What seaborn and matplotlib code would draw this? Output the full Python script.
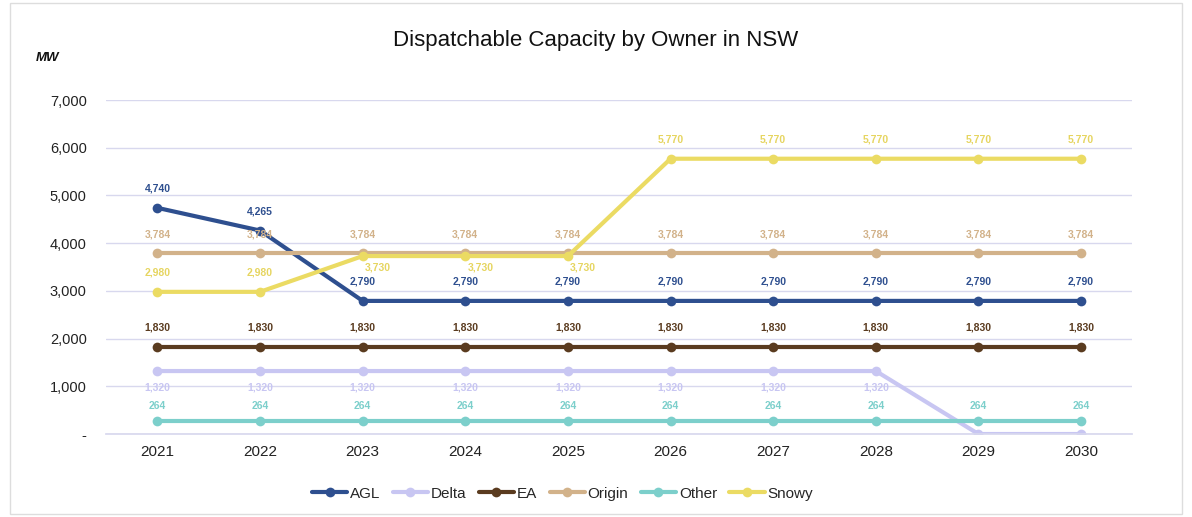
import matplotlib
matplotlib.use("Agg")
import matplotlib.pyplot as plt
import seaborn as sns
import pandas as pd
from matplotlib.ticker import FuncFormatter

years = [2021, 2022, 2023, 2024, 2025, 2026, 2027, 2028, 2029, 2030]
agl = [4740, 4265, 2790, 2790, 2790, 2790, 2790, 2790, 2790, 2790]
delta = [1320, 1320, 1320, 1320, 1320, 1320, 1320, 1320, 0, 0]
ea = [1830] * 10
origin = [3784] * 10
other = [264] * 10
snowy = [2980, 2980, 3730, 3730, 3730, 5770, 5770, 5770, 5770, 5770]

owners = ["AGL", "Delta", "EA", "Origin", "Other", "Snowy"]
series = [agl, delta, ea, origin, other, snowy]
colors = ["#2E4F8F", "#C8C6F2", "#5A3B1F", "#D2B28A", "#7CCFCB", "#EBDB63"]
label_colors = ["#2E4F8F", "#C8C6F2", "#5A3B1F", "#D2B28A", "#7CCFCB", "#E6D560"]

rows = []
for name, vals in zip(owners, series):
    for y, v in zip(years, vals):
        rows.append({"Year": y, "MW": v, "Owner": name})
df = pd.DataFrame(rows)

sns.set_theme(style="white")
plt.rcParams["font.family"] = ["Liberation Sans", "DejaVu Sans"]

fig = plt.figure(figsize=(11.92, 5.17), dpi=100)
ax = fig.add_axes([0.089, 0.1605, 0.861, 0.646])

palette = dict(zip(owners, colors))
sns.lineplot(data=df, x="Year", y="MW", hue="Owner", palette=palette,
             marker="o", markersize=7, markeredgewidth=0, linewidth=3,
             ax=ax, legend=True)

ax.set_xlim(2020.5, 2030.5)
ax.set_ylim(0, 7000)
ax.set_yticks(range(0, 7001, 1000))
ax.yaxis.set_major_formatter(FuncFormatter(lambda v, p: "-" if v == 0 else f"{int(v):,}"))
ax.set_xticks(years)
ax.set_xticklabels([str(y) for y in years])
ax.tick_params(axis="x", labelsize=11, colors="#222222", length=0, pad=8)
ax.tick_params(axis="y", labelsize=10.5, colors="#222222", length=0, pad=14)
ax.grid(axis="y", color="#D8D8EE", linewidth=1)
ax.set_axisbelow(True)
for s in ["top", "right", "left"]:
    ax.spines[s].set_visible(False)
ax.spines["bottom"].set_color("#D8D8EE")
ax.set_xlabel("")
ax.set_ylabel("")

# data labels
for i, (name, vals) in enumerate(zip(owners, series)):
    for y, v in zip(years, vals):
        if v == 0:
            continue
        if name == "Delta":
            off = (0, -12)
        elif name == "Snowy" and v == 3730:
            off = (11, -8)
        elif name == "Other":
            off = (0, 11)
        else:
            off = (0, 14)
        ax.annotate(f"{v:,}", (y, v), xytext=off, textcoords="offset points",
                    ha="center", va="center", fontsize=7.5, fontweight="bold",
                    color=label_colors[i])

fig.text(0.5, 0.922, "Dispatchable Capacity by Owner in NSW", ha="center", va="center",
         fontsize=16, color="#111111")
fig.text(0.03, 0.888, "MW", ha="left", va="center", fontsize=9.5,
         fontweight="bold", fontstyle="italic", color="#111111")

handles, labels = ax.get_legend_handles_labels()
ax.legend_.remove()
fig.legend(handles, labels, loc="center", bbox_to_anchor=(0.472, 0.045), ncol=6,
           frameon=False, fontsize=11, handlelength=2.3, columnspacing=0.8,
           handletextpad=0.2)

border = plt.Rectangle((0.008, 0.005), 0.984, 0.99, transform=fig.transFigure,
                       fill=False, edgecolor="#DDDDDD", linewidth=1)
fig.add_artist(border)

fig.savefig("out.png", dpi=100, facecolor="white")
